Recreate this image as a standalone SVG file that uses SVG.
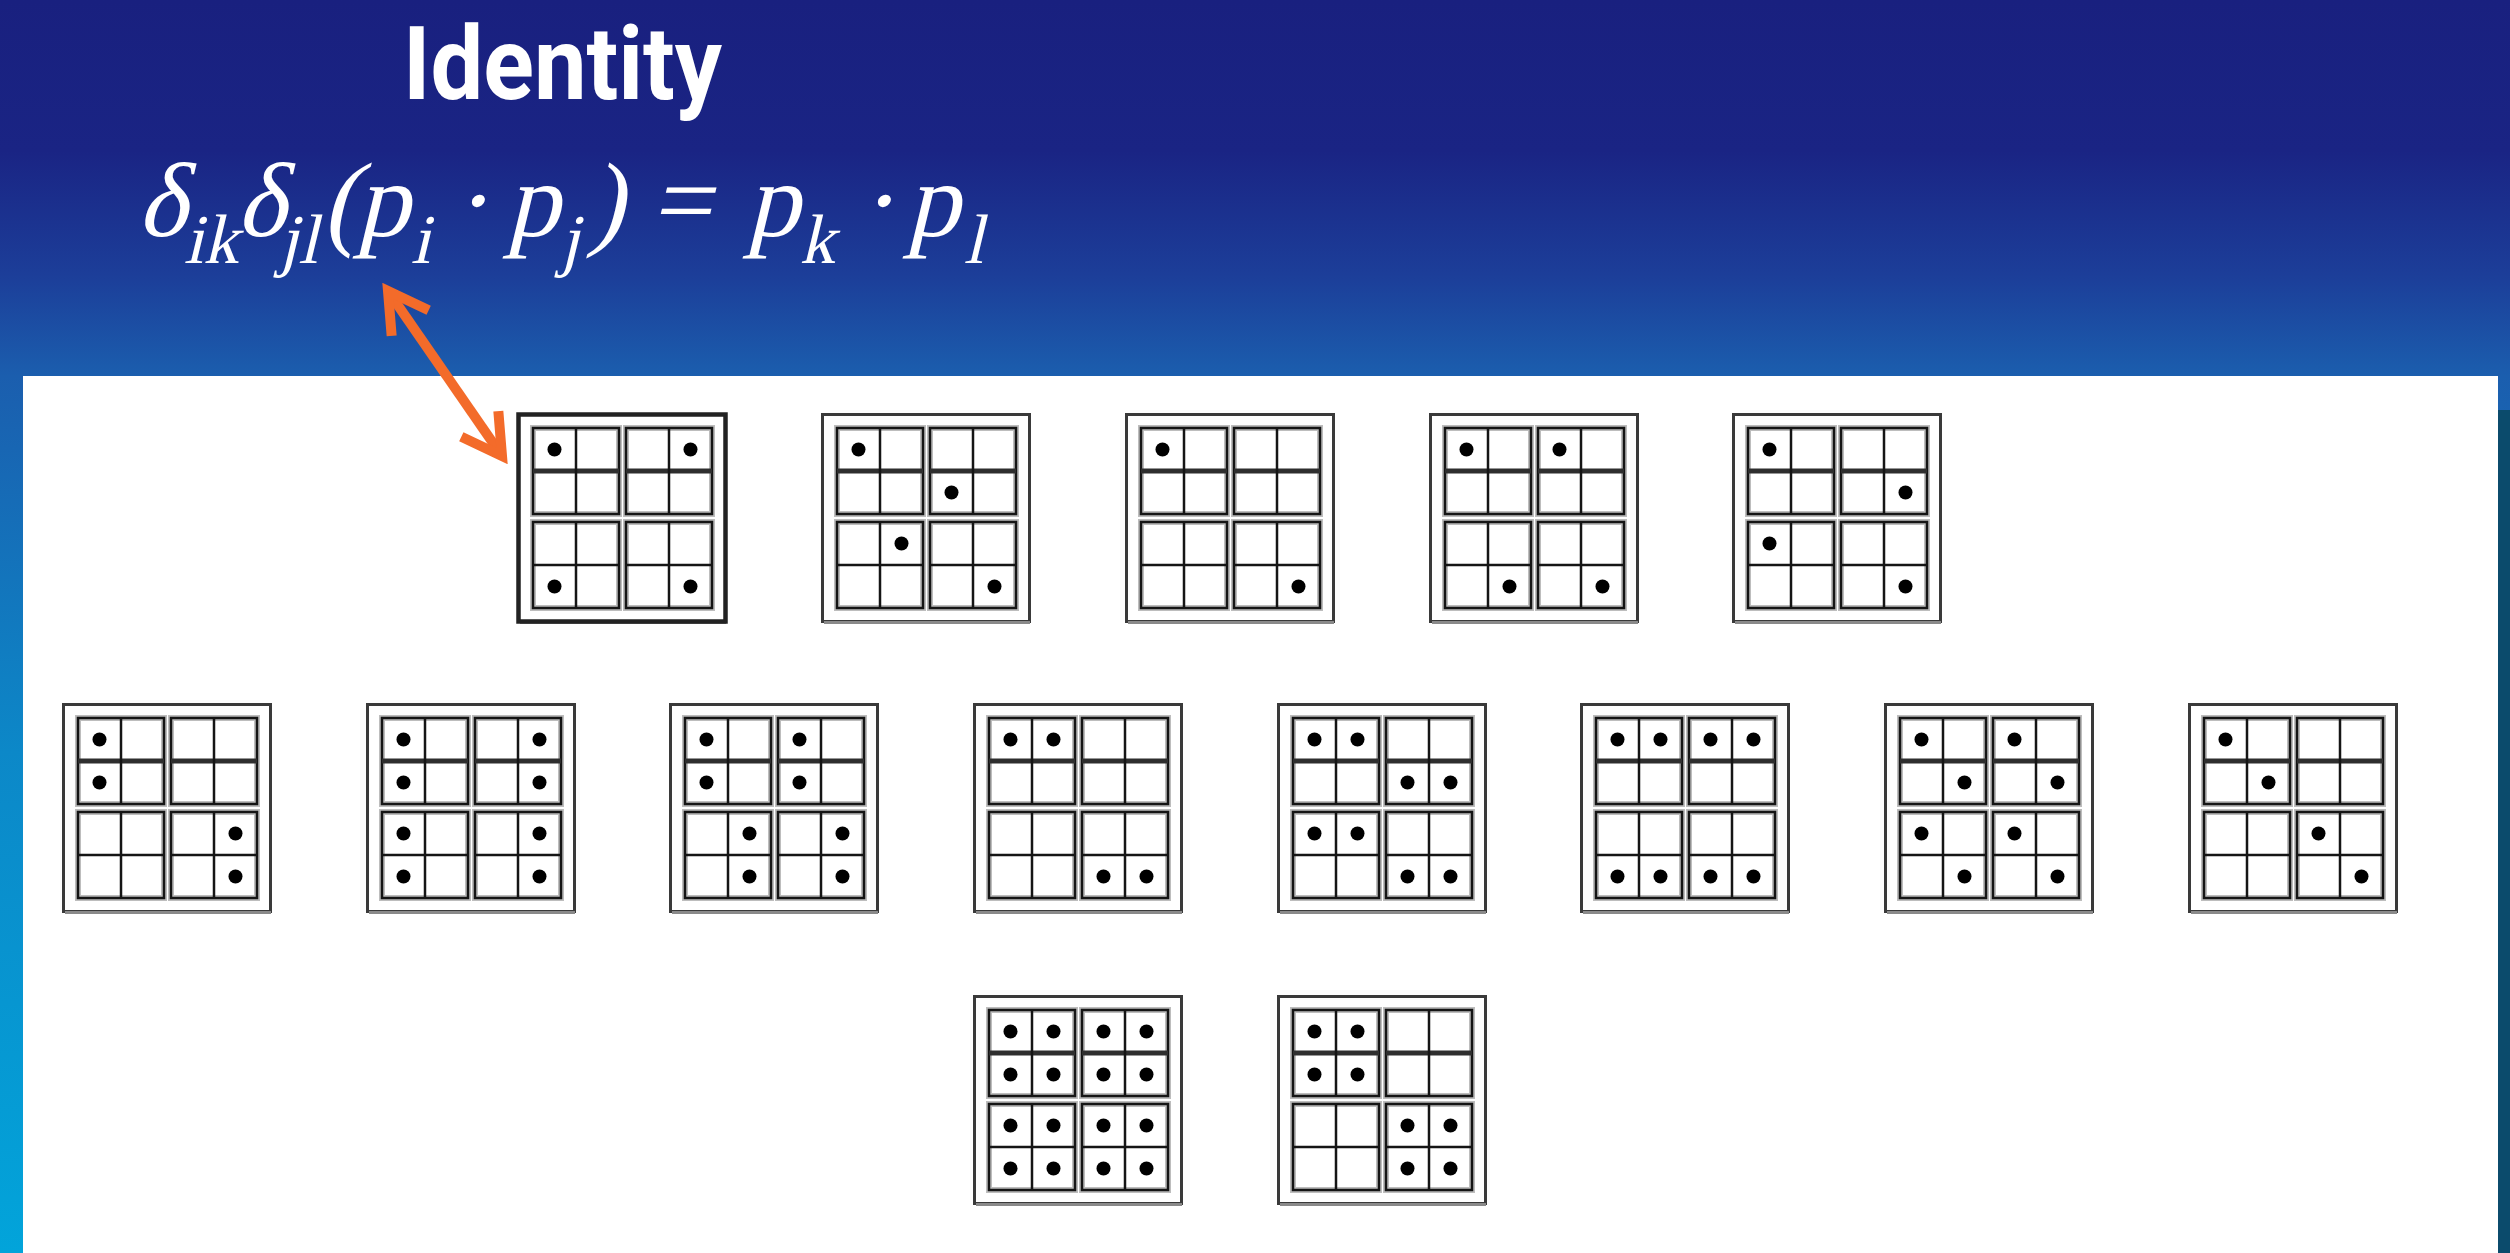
<svg xmlns="http://www.w3.org/2000/svg" xmlns:xlink="http://www.w3.org/1999/xlink" width="2510" height="1253" viewBox="0 0 2510 1253">
<style>
.title{font-family:Roboto,"Liberation Sans",sans-serif;font-weight:700;fill:#fff;}
.math{font-family:"Liberation Serif","Times New Roman",serif;font-style:normal;fill:#fff;font-size:106px;}
.sub{font-size:70px;}
.frame{fill:#fff;stroke:#3a3a3a;stroke-width:3;}
.halo{fill:none;stroke:#bdbdbd;stroke-width:6;}
.sq{fill:none;stroke:#151515;stroke-width:2.5;}
.thick{fill:none;stroke:#2e2e2e;stroke-width:5;}
.thin{fill:none;stroke:#151515;stroke-width:2.5;}
.d{fill:#000;}
</style>
<defs>
<linearGradient id="bg" x1="0" y1="0" x2="0" y2="1">
<stop offset="0" stop-color="#19207f"/>
<stop offset="0.12" stop-color="#1a2484"/>
<stop offset="0.22" stop-color="#1c3e99"/>
<stop offset="0.3" stop-color="#1b5eae"/>
<stop offset="0.6" stop-color="#0c88c8"/>
<stop offset="1" stop-color="#02a4da"/>
</linearGradient>
<marker id="chev" viewBox="-50 -30 60 60" refX="0" refY="0" markerWidth="60" markerHeight="60" markerUnits="userSpaceOnUse" orient="auto-start-reverse">
<path d="M-39,-22.5 L0,0 L-39,22.5" fill="none" stroke="#f36b2a" stroke-width="10" stroke-linejoin="miter"/>
</marker>
<g id="grid">
<rect class="frame" x="1.5" y="1.5" width="207" height="207"/>
<path d="M3,209.5 H209" stroke="#8a8a8a" stroke-width="3" fill="none"/>
<rect class="halo" x="16" y="15" width="86" height="86"/>
<rect class="halo" x="109" y="15" width="86" height="86"/>
<rect class="halo" x="16" y="109" width="86" height="86"/>
<rect class="halo" x="109" y="109" width="86" height="86"/>
<rect class="sq" x="16" y="15" width="86" height="86"/>
<rect class="sq" x="109" y="15" width="86" height="86"/>
<rect class="sq" x="16" y="109" width="86" height="86"/>
<rect class="sq" x="109" y="109" width="86" height="86"/>
<path class="thick" d="M16,58 H102 M109,58 H195"/>
<path class="thin" d="M16,152 H102 M109,152 H195 M59,15 V101 M152,15 V101 M59,109 V195 M152,109 V195"/>
</g>
</defs>

<rect x="0" y="0" width="2510" height="1253" fill="url(#bg)"/>
<rect x="2498" y="410" width="12" height="843" fill="#0b4b6c"/>
<rect x="23" y="376" width="2475" height="877" fill="#fff"/>

<g id="title">
<text class="title" x="403" y="99" font-size="102" textLength="319" lengthAdjust="spacingAndGlyphs">Identity</text>
</g>

<g id="formula" transform="translate(57,0) skewX(-13.5)">
<text class="math">
<tspan x="137" y="236">δ</tspan><tspan class="sub" x="190" y="263">ik</tspan><tspan x="236" y="236">δ</tspan><tspan class="sub" x="285" y="263">jl</tspan><tspan x="322" y="236">(</tspan><tspan x="356" y="236">p</tspan><tspan class="sub" x="417" y="263">i</tspan><tspan x="452" y="236">·</tspan><tspan x="506" y="236">p</tspan><tspan class="sub" x="566" y="263">j</tspan><tspan x="588" y="236">)</tspan><tspan x="650" y="236">=</tspan><tspan x="746" y="236">p</tspan><tspan class="sub" x="806" y="263">k</tspan><tspan x="858" y="236">·</tspan><tspan x="906" y="236">p</tspan><tspan class="sub" x="970" y="263">l</tspan>
</text>
</g>

<g id="r1b1" transform="translate(517,413)">
<use xlink:href="#grid" href="#grid"/>
<rect x="1.5" y="1.5" width="207" height="207" fill="none" stroke="#222" stroke-width="4.5"/>
<circle class="d" cx="37.5" cy="36.5" r="7"/><circle class="d" cx="173.5" cy="36.5" r="7"/><circle class="d" cx="37.5" cy="173.5" r="7"/><circle class="d" cx="173.5" cy="173.5" r="7"/>
</g>
<g id="r1b2" transform="translate(821,413)">
<use xlink:href="#grid" href="#grid"/>
<circle class="d" cx="37.5" cy="36.5" r="7"/><circle class="d" cx="130.5" cy="79.5" r="7"/><circle class="d" cx="80.5" cy="130.5" r="7"/><circle class="d" cx="173.5" cy="173.5" r="7"/>
</g>
<g id="r1b3" transform="translate(1125,413)">
<use xlink:href="#grid" href="#grid"/>
<circle class="d" cx="37.5" cy="36.5" r="7"/><circle class="d" cx="173.5" cy="173.5" r="7"/>
</g>
<g id="r1b4" transform="translate(1429,413)">
<use xlink:href="#grid" href="#grid"/>
<circle class="d" cx="37.5" cy="36.5" r="7"/><circle class="d" cx="130.5" cy="36.5" r="7"/><circle class="d" cx="80.5" cy="173.5" r="7"/><circle class="d" cx="173.5" cy="173.5" r="7"/>
</g>
<g id="r1b5" transform="translate(1732,413)">
<use xlink:href="#grid" href="#grid"/>
<circle class="d" cx="37.5" cy="36.5" r="7"/><circle class="d" cx="173.5" cy="79.5" r="7"/><circle class="d" cx="37.5" cy="130.5" r="7"/><circle class="d" cx="173.5" cy="173.5" r="7"/>
</g>

<g id="r2b1" transform="translate(62,703)">
<use xlink:href="#grid" href="#grid"/>
<circle class="d" cx="37.5" cy="36.5" r="7"/><circle class="d" cx="37.5" cy="79.5" r="7"/><circle class="d" cx="173.5" cy="130.5" r="7"/><circle class="d" cx="173.5" cy="173.5" r="7"/>
</g>
<g id="r2b2" transform="translate(366,703)">
<use xlink:href="#grid" href="#grid"/>
<circle class="d" cx="37.5" cy="36.5" r="7"/><circle class="d" cx="37.5" cy="79.5" r="7"/><circle class="d" cx="173.5" cy="36.5" r="7"/><circle class="d" cx="173.5" cy="79.5" r="7"/>
<circle class="d" cx="37.5" cy="130.5" r="7"/><circle class="d" cx="37.5" cy="173.5" r="7"/><circle class="d" cx="173.5" cy="130.5" r="7"/><circle class="d" cx="173.5" cy="173.5" r="7"/>
</g>
<g id="r2b3" transform="translate(669,703)">
<use xlink:href="#grid" href="#grid"/>
<circle class="d" cx="37.5" cy="36.5" r="7"/><circle class="d" cx="37.5" cy="79.5" r="7"/><circle class="d" cx="130.5" cy="36.5" r="7"/><circle class="d" cx="130.5" cy="79.5" r="7"/>
<circle class="d" cx="80.5" cy="130.5" r="7"/><circle class="d" cx="80.5" cy="173.5" r="7"/><circle class="d" cx="173.5" cy="130.5" r="7"/><circle class="d" cx="173.5" cy="173.5" r="7"/>
</g>
<g id="r2b4" transform="translate(973,703)">
<use xlink:href="#grid" href="#grid"/>
<circle class="d" cx="37.5" cy="36.5" r="7"/><circle class="d" cx="80.5" cy="36.5" r="7"/><circle class="d" cx="130.5" cy="173.5" r="7"/><circle class="d" cx="173.5" cy="173.5" r="7"/>
</g>
<g id="r2b5" transform="translate(1277,703)">
<use xlink:href="#grid" href="#grid"/>
<circle class="d" cx="37.5" cy="36.5" r="7"/><circle class="d" cx="80.5" cy="36.5" r="7"/><circle class="d" cx="130.5" cy="79.5" r="7"/><circle class="d" cx="173.5" cy="79.5" r="7"/>
<circle class="d" cx="37.5" cy="130.5" r="7"/><circle class="d" cx="80.5" cy="130.5" r="7"/><circle class="d" cx="130.5" cy="173.5" r="7"/><circle class="d" cx="173.5" cy="173.5" r="7"/>
</g>
<g id="r2b6" transform="translate(1580,703)">
<use xlink:href="#grid" href="#grid"/>
<circle class="d" cx="37.5" cy="36.5" r="7"/><circle class="d" cx="80.5" cy="36.5" r="7"/><circle class="d" cx="130.5" cy="36.5" r="7"/><circle class="d" cx="173.5" cy="36.5" r="7"/>
<circle class="d" cx="37.5" cy="173.5" r="7"/><circle class="d" cx="80.5" cy="173.5" r="7"/><circle class="d" cx="130.5" cy="173.5" r="7"/><circle class="d" cx="173.5" cy="173.5" r="7"/>
</g>
<g id="r2b7" transform="translate(1884,703)">
<use xlink:href="#grid" href="#grid"/>
<circle class="d" cx="37.5" cy="36.5" r="7"/><circle class="d" cx="80.5" cy="79.5" r="7"/><circle class="d" cx="130.5" cy="36.5" r="7"/><circle class="d" cx="173.5" cy="79.5" r="7"/>
<circle class="d" cx="37.5" cy="130.5" r="7"/><circle class="d" cx="80.5" cy="173.5" r="7"/><circle class="d" cx="130.5" cy="130.5" r="7"/><circle class="d" cx="173.5" cy="173.5" r="7"/>
</g>
<g id="r2b8" transform="translate(2188,703)">
<use xlink:href="#grid" href="#grid"/>
<circle class="d" cx="37.5" cy="36.5" r="7"/><circle class="d" cx="80.5" cy="79.5" r="7"/><circle class="d" cx="130.5" cy="130.5" r="7"/><circle class="d" cx="173.5" cy="173.5" r="7"/>
</g>

<g id="r3b1" transform="translate(973,995)">
<use xlink:href="#grid" href="#grid"/>
<circle class="d" cx="37.5" cy="36.5" r="7"/><circle class="d" cx="80.5" cy="36.5" r="7"/><circle class="d" cx="130.5" cy="36.5" r="7"/><circle class="d" cx="173.5" cy="36.5" r="7"/>
<circle class="d" cx="37.5" cy="79.5" r="7"/><circle class="d" cx="80.5" cy="79.5" r="7"/><circle class="d" cx="130.5" cy="79.5" r="7"/><circle class="d" cx="173.5" cy="79.5" r="7"/>
<circle class="d" cx="37.5" cy="130.5" r="7"/><circle class="d" cx="80.5" cy="130.5" r="7"/><circle class="d" cx="130.5" cy="130.5" r="7"/><circle class="d" cx="173.5" cy="130.5" r="7"/>
<circle class="d" cx="37.5" cy="173.5" r="7"/><circle class="d" cx="80.5" cy="173.5" r="7"/><circle class="d" cx="130.5" cy="173.5" r="7"/><circle class="d" cx="173.5" cy="173.5" r="7"/>
</g>
<g id="r3b2" transform="translate(1277,995)">
<use xlink:href="#grid" href="#grid"/>
<circle class="d" cx="37.5" cy="36.5" r="7"/><circle class="d" cx="80.5" cy="36.5" r="7"/><circle class="d" cx="37.5" cy="79.5" r="7"/><circle class="d" cx="80.5" cy="79.5" r="7"/>
<circle class="d" cx="130.5" cy="130.5" r="7"/><circle class="d" cx="173.5" cy="130.5" r="7"/><circle class="d" cx="130.5" cy="173.5" r="7"/><circle class="d" cx="173.5" cy="173.5" r="7"/>
</g>

<g id="connectors">
<line x1="388" y1="291" x2="502" y2="456" stroke="#f36b2a" stroke-width="10" marker-start="url(#chev)" marker-end="url(#chev)"/>
</g>
</svg>
